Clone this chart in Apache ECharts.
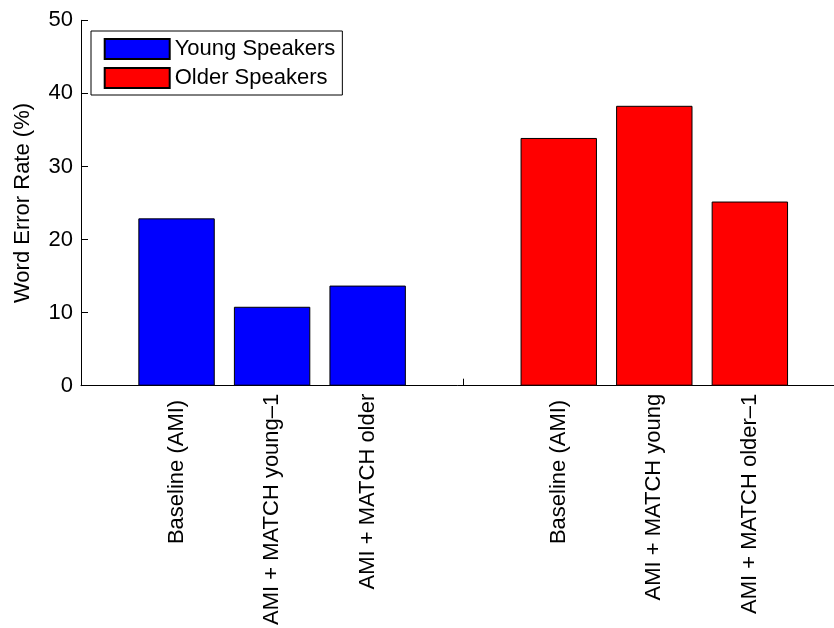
<!DOCTYPE html>
<html>
<head>
<meta charset="utf-8">
<title>Word Error Rate by speaker group</title>
<script src="https://cdn.jsdelivr.net/npm/echarts@6/dist/echarts.min.js"></script>
<style>
  html, body { margin: 0; padding: 0; background: #fff; }
  #chart { width: 834px; height: 628px; }
</style>
</head>
<body>
<div id="chart"></div>
<script>
// Bar slots along the x axis (slot 4 is left empty between the two groups)
const youngPositions = [1, 2, 3];
const olderPositions = [5, 6, 7];
const youngLabels = ['Baseline (AMI) ', 'AMI + MATCH young\u20131', 'AMI + MATCH older'];
const olderLabels = ['Baseline (AMI) ', 'AMI + MATCH young', 'AMI + MATCH older\u20131'];
// Word error rate (%)
const youngWER = [22.9, 10.8, 13.7];
const olderWER = [33.9, 38.3, 25.2];
const yTicks = [0, 10, 20, 30, 40, 50];

const FONT = '"Liberation Sans", Arial, Helvetica, sans-serif';
const FS = 22;

const labelByPos = {};
youngPositions.forEach((p, i) => { labelByPos[p] = youngLabels[i]; });
olderPositions.forEach((p, i) => { labelByPos[p] = olderLabels[i]; });

const chart = echarts.init(document.getElementById('chart'), null, { renderer: 'canvas' });

chart.setOption({
  animation: false,
  backgroundColor: '#ffffff',
  textStyle: { fontFamily: FONT },
  // the x range runs a little past the right edge of the canvas
  grid: {
    left: 81, top: 20.3, bottom: 242.3, width: 764.4,
    containLabel: false,
    outerBoundsMode: 'none'
  },
  legend: {
    orient: 'vertical',
    left: 91,
    top: 31,
    icon: 'rect',
    itemWidth: 65,
    itemHeight: 20,
    itemGap: 7,
    padding: [7, 7, 6, 12.7],
    borderColor: '#000',
    borderWidth: 1,
    backgroundColor: '#fff',
    textStyle: { fontSize: FS, color: '#000', fontFamily: FONT, lineHeight: 20 },
    data: ['Young Speakers', 'Older Speakers']
  },
  xAxis: {
    type: 'value',
    min: 0,
    max: 8,
    interval: 1,
    splitLine: { show: false },
    axisLine: { show: true, onZero: false, lineStyle: { color: '#000', width: 1 } },
    axisTick: { show: true, inside: true, length: 7, customValues: [4], lineStyle: { color: '#000' } },
    axisLabel: {
      show: true,
      rotate: 90,
      margin: 8,
      customValues: youngPositions.concat(olderPositions),
      formatter: v => labelByPos[v] || '',
      fontSize: FS,
      color: '#000',
      fontFamily: FONT
    }
  },
  yAxis: {
    type: 'value',
    min: yTicks[0],
    max: yTicks[yTicks.length - 1],
    interval: 10,
    name: 'Word Error Rate (%)',
    nameLocation: 'middle',
    nameRotate: 90,
    nameGap: 47,
    nameTextStyle: { fontSize: FS, color: '#000', fontFamily: FONT },
    splitLine: { show: false },
    axisLine: { show: true, lineStyle: { color: '#000', width: 1 } },
    axisTick: { show: true, inside: true, length: 7, lineStyle: { color: '#000' } },
    axisLabel: { margin: 8, fontSize: FS, color: '#000', fontFamily: FONT }
  },
  series: [
    {
      name: 'Young Speakers',
      type: 'bar',
      barWidth: 76.4,
      barGap: '-100%',
      itemStyle: { color: '#0000ff', borderColor: '#000', borderWidth: 1 },
      data: youngPositions.map((p, i) => [p, youngWER[i]])
    },
    {
      name: 'Older Speakers',
      type: 'bar',
      barWidth: 76.4,
      barGap: '-100%',
      itemStyle: { color: '#ff0000', borderColor: '#000', borderWidth: 1 },
      data: olderPositions.map((p, i) => [p, olderWER[i]])
    }
  ]
});
</script>
</body>
</html>
